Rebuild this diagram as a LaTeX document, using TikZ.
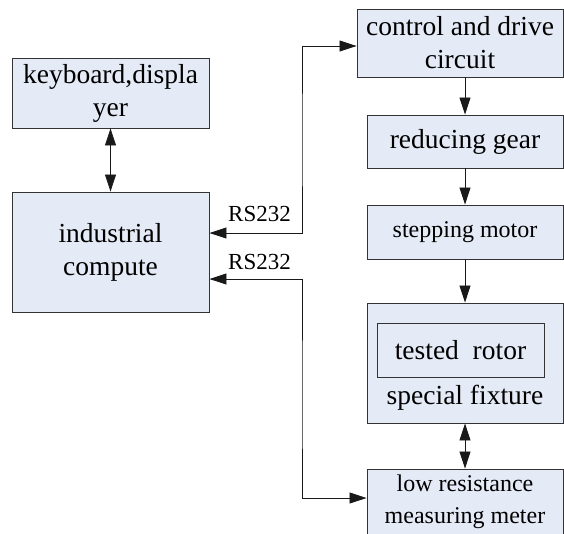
\documentclass[tikz,border=0pt]{standalone}
\usepackage{fontspec}
\setmainfont{Liberation Serif}
\usetikzlibrary{arrows.meta}
\definecolor{boxfill}{RGB}{229,235,246}

\begin{document}
\begin{tikzpicture}[x=1pt,y=-1pt,
  block/.style={draw=black!80,line width=0.9pt,fill=boxfill,align=center,
    inner sep=0pt,font=\fontsize{27.5}{33}\selectfont},
  small/.style={font=\fontsize{24}{32}\selectfont},
  link/.style={line width=0.8pt,draw=black!90},
  tip/.style={-{Triangle[length=17pt,width=11pt]}},
  both/.style={{Triangle[length=17pt,width=11pt]}-{Triangle[length=17pt,width=11pt]}},
  lbl/.style={font=\fontsize{23}{26}\selectfont}]
  \clip (0,0) rectangle (564,533);

  % left column
  \node[block,minimum width=197pt,minimum height=70pt] (kbd) at (110.5,93) {keyboard,displa\\yer};
  \node[block,minimum width=197pt,minimum height=120pt] (pc) at (110.5,252) {industrial\\compute};

  % right column
  \node[block,minimum width=206pt,minimum height=68pt] (drive) at (460,43) {control and drive\\circuit};
  \node[block,minimum width=196pt,minimum height=53pt] (gear) at (465,141.5) {reducing gear};
  \node[block,small,minimum width=196pt,minimum height=54pt] (motor) at (465,232) {stepping motor};
  \node[block,minimum width=196pt,minimum height=120pt] (fixture) at (465,363) {};
  \node[block,minimum width=167pt,minimum height=54pt] (rotor) at (460.5,350) {tested~~rotor};
  \node[font=\fontsize{27.5}{33}\selectfont] (fixlabel) at (465,398) {special fixture};
  \node[block,small,minimum width=196pt,minimum height=66pt] (meter) at (465,502) {low resistance\\measuring meter};

  % bus turning points
  \coordinate (busA) at (302,140);
  \coordinate (busB) at (302,400);

  % connectors
  \draw[link,both] (kbd.south) -- (pc.north);
  \draw[link,tip] (drive.south -| gear.north) -- (gear.north);
  \draw[link,tip] (gear.south) -- (motor.north);
  \draw[link,tip] (motor.south) -- (fixture.north);
  \draw[link,both] (fixture.south) -- (meter.north);
  \draw[link,both] ([yshift=19pt]pc.east) -| (busA) |- ([yshift=-3pt]drive.west);
  \draw[link,both] ([yshift=-27pt]pc.east) -| (busB) |- ([yshift=4pt]meter.west);

  % labels
  \node[lbl,anchor=base west,inner sep=0pt] (rsA) at (228,221) {RS232};
  \node[lbl,anchor=base west,inner sep=0pt] (rsB) at (228,269) {RS232};
\end{tikzpicture}
\end{document}
